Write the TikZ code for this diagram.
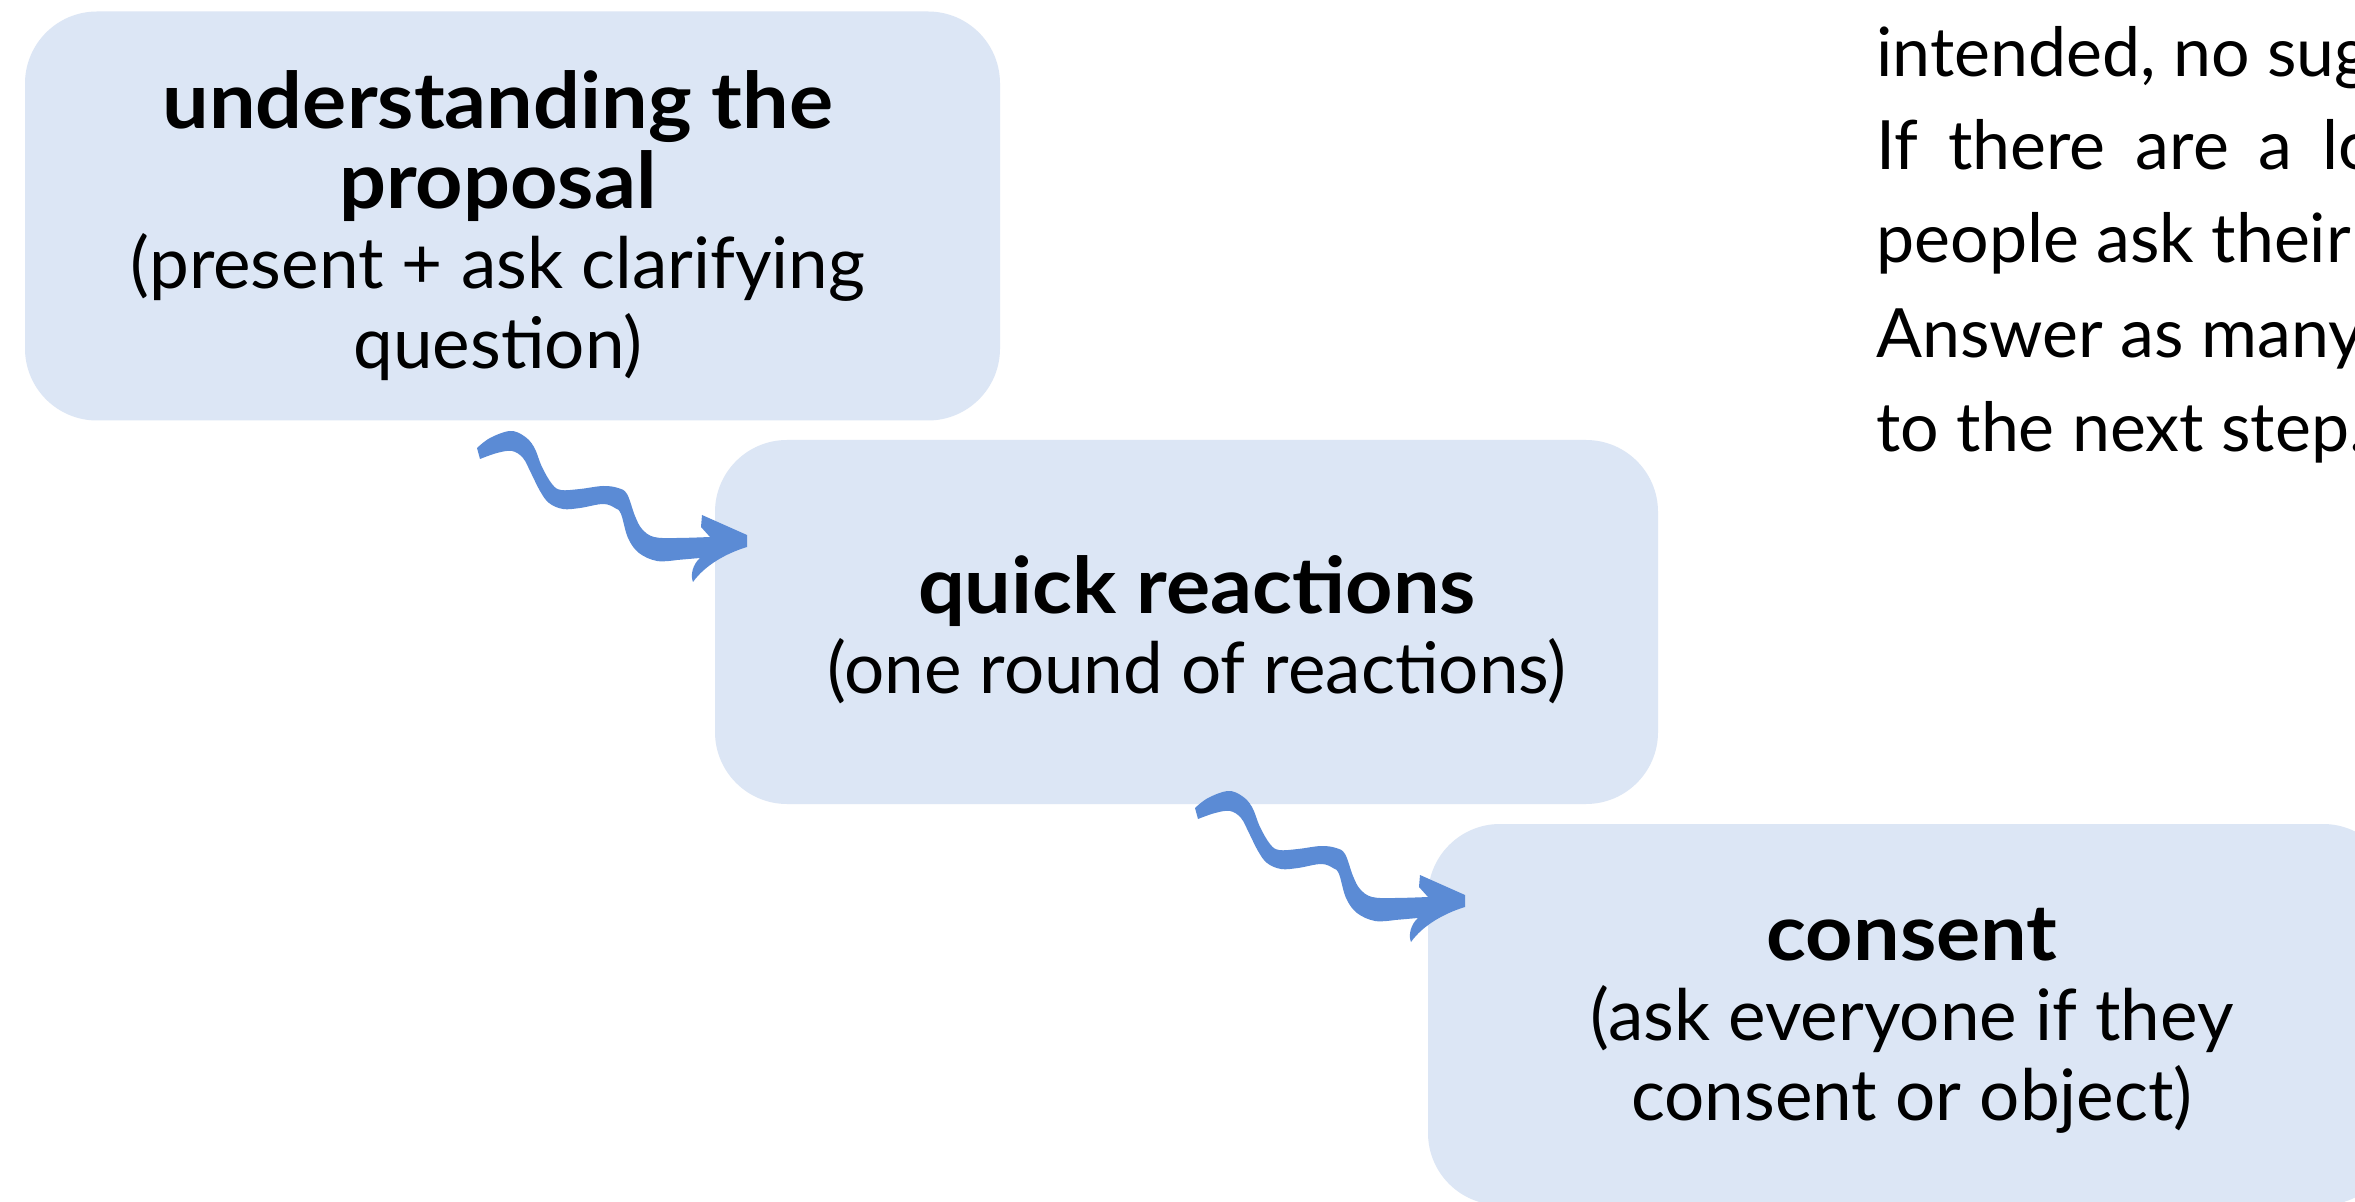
\documentclass[tikz,border=0pt]{standalone}
\usepackage{fontspec}
\setmainfont{Lato}[BoldFeatures={FakeStretch=1.06}]
\definecolor{boxfill}{HTML}{DCE6F5}
\definecolor{arrowblue}{HTML}{5B8BD5}
\tikzset{
  box/.style={fill=boxfill, rounded corners=36pt, inner sep=0pt},
  boxtext/.style={align=center, inner sep=0pt, font=\fontsize{35.5pt}{40pt}\selectfont},
  sidetext/.style={anchor=base west, inner sep=0pt, font=\fontsize{34pt}{40pt}\selectfont},
  squig/.pic={
    \fill[arrowblue] plot[smooth,tension=0.6] coordinates{(0,3) (13,-7) (33,-14) (47,-9) (57,2) (65,22) (75,39) (84,45) (103,44) (126,41) (141,43) (150,49) (158,71) (165,84) (177,92) (200,93) (233,92)}
      -- (224,82) -- (225,70) -- (270,90) -- (270,102)
      .. controls (250,108) and (228,120) .. (216,137)
      .. controls (213,130) and (216,119) .. (223,113)
      -- plot[smooth,tension=0.6] coordinates{(200,115) (180,116) (162,108) (151,93) (144,69) (138,63) (126,59) (103,63) (86,64) (72,58) (63,46) (54,28) (46,13) (35,6) (20,8) (3,14)}
      -- cycle;
  }
}
\newcommand\ttl[1]{\fontsize{39pt}{44pt}\selectfont\bfseries #1}
\newcommand\sub{\fontsize{35.5pt}{40pt}\selectfont\mdseries}
\begin{document}
\begin{tikzpicture}[x=0.5pt,y=-0.5pt]
\useasboundingbox (0,0) rectangle (2355,1202);
\clip (0,0) rectangle (2355,1202);
\fill[white] (0,0) rectangle (2355,1202);
% boxes
\node[box, minimum width=487.5pt, minimum height=204.5pt] (b1) at (512.5,216) {};
\node[box, minimum width=471.5pt, minimum height=182pt] (b2) at (1186.5,622) {};
\node[box, minimum width=483.5pt, minimum height=190.5pt] (b3) at (1911.5,1014.5) {};
% box texts
\node[boxtext] (t1) at (498,226) {\ttl{understanding the}\\\ttl{proposal}\\\sub (present + ask clarifying\\\sub question)};
\node[boxtext] (t2) at (1197,630) {\ttl{quick reactions}\\\sub (one round of reactions)};
\node[boxtext] (t3) at (1912,1021) {\ttl{consent}\\\sub (ask everyone if they\\\sub consent or object)};
% arrows
\coordinate (a1) at (477,445);
\coordinate (a2) at (1195,805);
\pic at (a1) {squig};
\pic at (a2) {squig};
% side text
\node[sidetext] (s1) at (1876,77) {intended, no suggestions};
\node[sidetext] (s2) at (1876,170) {\spaceskip=15pt If there are a lot};
\node[sidetext] (s3) at (1876,263) {people ask their};
\node[sidetext] (s4) at (1876,358) {Answer as many};
\node[sidetext] (s5) at (1876,452) {to the next step.};
\end{tikzpicture}
\end{document}
